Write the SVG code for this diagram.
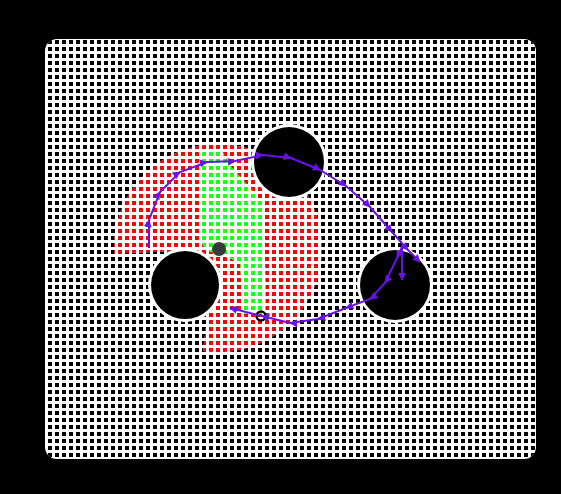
<svg xmlns="http://www.w3.org/2000/svg" width="561" height="494" viewBox="0 0 561 494">
<style>
.obs{fill:#000}
.halo{fill:#fff}
.traj{fill:none;stroke:#6a11e8;stroke-width:2;marker-mid:url(#ah);marker-end:url(#ah)}
</style>
<defs>
<pattern id="pk" width="7" height="7" patternUnits="userSpaceOnUse" x="46" y="38"><rect x="2" y="2" width="4" height="4" fill="#000"/></pattern>
<pattern id="pr" width="7" height="7" patternUnits="userSpaceOnUse" x="46" y="38"><rect x="2" y="2" width="4" height="4" fill="#ee0a0a"/></pattern>
<pattern id="pg" width="7" height="7" patternUnits="userSpaceOnUse" x="46" y="38"><rect x="2" y="2" width="4" height="4" fill="#1aff1a"/></pattern>
<marker id="ah" viewBox="0 0 10 10" refX="9" refY="5" markerWidth="4" markerHeight="4" orient="auto"><path d="M0,0 L10,5 L0,10 Z" fill="#6a11e8"/></marker>
<clipPath id="area"><rect x="45" y="39" width="491" height="420" rx="12"/></clipPath>
</defs>
<rect width="561" height="494" fill="#000"/>
<g id="grid" clip-path="url(#area)">
<rect x="45" y="39" width="491" height="420" fill="#fff"/>
<rect x="45" y="39" width="491" height="420" fill="url(#pk)"/>
</g>
<g id="visible">
<path d="M203,351 A104,104 0 1 0 114.1,253.4 L183,251 L208,310 Z" fill="#fff"/>
<path d="M203,351 A104,104 0 1 0 114.1,253.4 L183,251 L208,310 Z" fill="url(#pr)"/>
</g>
<g id="corridor">
<path d="M200,150 L222,150 L227,162 L264,204 L266,314 L243,314 L240,262 L206,250 L200,240 Z" fill="#fff"/>
<path d="M200,150 L222,150 L227,162 L264,204 L266,314 L243,314 L240,262 L206,250 L200,240 Z" fill="url(#pg)"/>
</g>
<g id="obstacle1"><circle cx="289" cy="162" r="38" class="halo"/><circle cx="289" cy="162" r="35" class="obs"/></g>
<g id="obstacle2"><circle cx="185" cy="285" r="37" class="halo"/><circle cx="185" cy="285" r="34" class="obs"/></g>
<g id="obstacle3"><circle cx="395" cy="285" r="38" class="halo"/><circle cx="395" cy="285" r="35" class="obs"/></g>
<g id="robot"><circle cx="219" cy="249" r="7" fill="#3a3a3a"/></g>
<g id="goal"><circle cx="261" cy="316" r="4.5" fill="none" stroke="#000" stroke-width="2.5"/></g>
<g id="connectors">
<polyline class="traj" points="149,248 149,220 160,192 180,172 207,162 235,161 263,155 291,158 320,170 346,186 370,207 392,232 408,250 420,262"/>
<polyline class="traj" points="402,247 402,280"/>
<polyline class="traj" points="402,247 397,258 385,283 370,299 346,308 318,319 290,323 262,316 230,308"/>
</g>
</svg>
